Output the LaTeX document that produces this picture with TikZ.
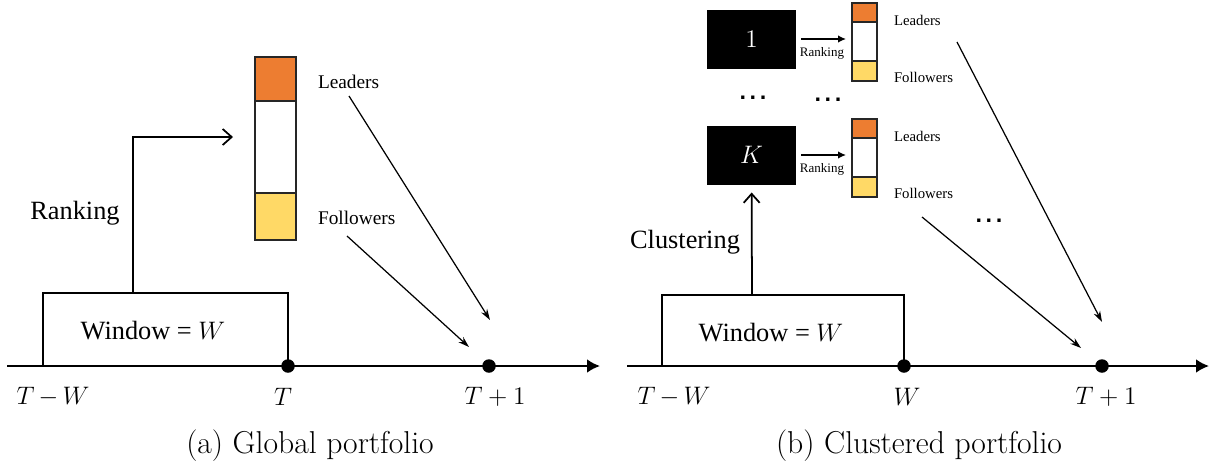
\documentclass[tikz,border=0pt]{standalone}
\usepackage{amsmath}
\usepackage{amssymb}
\usepackage{fontspec}
\usepackage{tikz}
\usetikzlibrary{arrows.meta}
\newfontfamily\labfont{Liberation Serif}
\newfontfamily\dotfont{DejaVu Sans}
\definecolor{leadorange}{RGB}{237,125,49}
\definecolor{followyellow}{RGB}{255,217,102}
\tikzset{
    every node/.style={inner sep=0pt, outer sep=0pt}
}
\tikzset{
    axis/.style={line width=1.6pt, -{Latex[length=2.6mm,width=2.8mm]}},
    winbox/.style={line width=1.1pt},
    dot/.style={circle, fill=black, minimum size=2.7mm},
    cell/.style={draw=black!85, line width=1.1pt},
    cluster/.style={fill=black, minimum width=17.8mm, minimum height=11.8mm,
    	text=white, font=\fontsize{15}{18}\selectfont},
    bigarr/.style={line width=1pt, -{Straight Barb[length=1.8mm,width=3.2mm]}},
    rankarr/.style={line width=0.8pt, -{Latex[length=1.6mm,width=1.5mm]}},
    diagarr/.style={line width=0.7pt, -{Stealth[length=2.2mm,width=1.4mm]}},
    biglab/.style={font=\labfont\fontsize{15}{18}\selectfont},
    midlab/.style={font=\labfont\fontsize{11}{13}\selectfont, anchor=west},
    smalllab/.style={font=\labfont\fontsize{8.4}{10}\selectfont, anchor=west},
    tinylab/.style={font=\labfont\fontsize{7.4}{9}\selectfont},
    timelab/.style={font=\fontsize{13.5}{16}\selectfont},
    caption/.style={font=\fontsize{18}{21}\selectfont},
    etc/.style={font=\dotfont\bfseries\fontsize{10.5}{12}\selectfont}
}

\begin{document}
\begin{tikzpicture}[x=0.2mm, y=-0.2mm]
  \useasboundingbox (0,0) rectangle (1211,468);

  % (a) global portfolio
  \coordinate (a0) at (7,366);
  \coordinate (a1) at (600,366);
  \draw[axis] (a0) -- (a1);
  \draw[winbox] (43,366) -- (43,293) -- (288,293) -- (288,366);
  \node[biglab] (awin) at (153,331) {Window = $W$};
  \node[dot] (aT) at (288,366) {};
  \node[dot] (aT1) at (489,366) {};
  \node[timelab] (aTW) at (53,397) {$T\,{-}\,W$};
  \node[timelab] (aTl) at (283,397) {$T$};
  \node[timelab] (aT1l) at (495,397) {$T+1$};

  \coordinate (ars) at (133,293);
  \coordinate (are) at (233,137);
  \draw[bigarr] (ars) |- (are);
  \node[biglab] (arank) at (75,213) {Ranking};

  \draw[cell, fill=leadorange] (255,57) rectangle (296,101);
  \draw[cell, fill=white] (255,101) rectangle (296,193);
  \draw[cell, fill=followyellow] (255,193) rectangle (296,240);
  \node[midlab] (alead) at (318,82) {Leaders};
  \node[midlab] (afoll) at (318,218) {Followers};

  \coordinate (als) at (349,96);
  \coordinate (ale) at (490,320);
  \coordinate (afs) at (347,236);
  \coordinate (afe) at (469,347);
  \draw[diagarr] (als) -- (ale);
  \draw[diagarr] (afs) -- (afe);

  \node[caption] (capa) at (310,446) {(a) Global portfolio};

  % (b) clustered portfolio
  \coordinate (b0) at (627,366);
  \coordinate (b1) at (1209,366);
  \draw[axis] (b0) -- (b1);
  \draw[winbox] (662,366) -- (662,295) -- (904,295) -- (904,366);
  \node[biglab] (bwin) at (771,333) {Window = $W$};
  \node[dot] (bW) at (904,366) {};
  \node[dot] (bT1) at (1102,366) {};
  \node[timelab] (bTW) at (674,397) {$T\,{-}\,W$};
  \node[timelab] (bWl) at (907,397) {$W$};
  \node[timelab] (bT1l) at (1106,397) {$T+1$};

  \node[cluster] (c1) at (751.5,39) {$1$};
  \node[cluster] (cK) at (751.5,155) {$K$};
  \coordinate (bcs) at (752,295);
  \draw[bigarr, shorten >=1.6mm] (bcs) -- (cK);
  \node[biglab] (bclus) at (685,242) {Clustering};

  \coordinate (r1) at (846,39);
  \coordinate (rK) at (846,155);
  \draw[rankarr, shorten <=1mm] (c1) -- (r1);
  \draw[rankarr, shorten <=1mm] (cK) -- (rK);
  \node[tinylab] (rk1) at (822,53) {Ranking};
  \node[tinylab] (rkK) at (822,169) {Ranking};

  \draw[cell, fill=leadorange] (852,3) rectangle (877,22);
  \draw[cell, fill=white] (852,22) rectangle (877,61);
  \draw[cell, fill=followyellow] (852,61) rectangle (877,81);
  \draw[cell, fill=leadorange] (852,119) rectangle (877,138);
  \draw[cell, fill=white] (852,138) rectangle (877,177);
  \draw[cell, fill=followyellow] (852,177) rectangle (877,197);
  \node[smalllab] (l1) at (894,20) {Leaders};
  \node[smalllab] (f1) at (894,77) {Followers};
  \node[smalllab] (lK) at (894,136) {Leaders};
  \node[smalllab] (fK) at (894,193) {Followers};

  \node[etc, anchor=base] (e1) at (753,99) {.\,.\,.};
  \node[etc, anchor=base] (e2) at (828,101) {.\,.\,.};
  \node[etc, anchor=base] (e3) at (989,222) {.\,.\,.};

  \coordinate (bls) at (957,42);
  \coordinate (ble) at (1102,322);
  \coordinate (bfs) at (922,217);
  \coordinate (bfe) at (1081,348);
  \draw[diagarr] (bls) -- (ble);
  \draw[diagarr] (bfs) -- (bfe);

  \node[caption] (capb) at (919,446) {(b) Clustered portfolio};
\end{tikzpicture}
\end{document}
